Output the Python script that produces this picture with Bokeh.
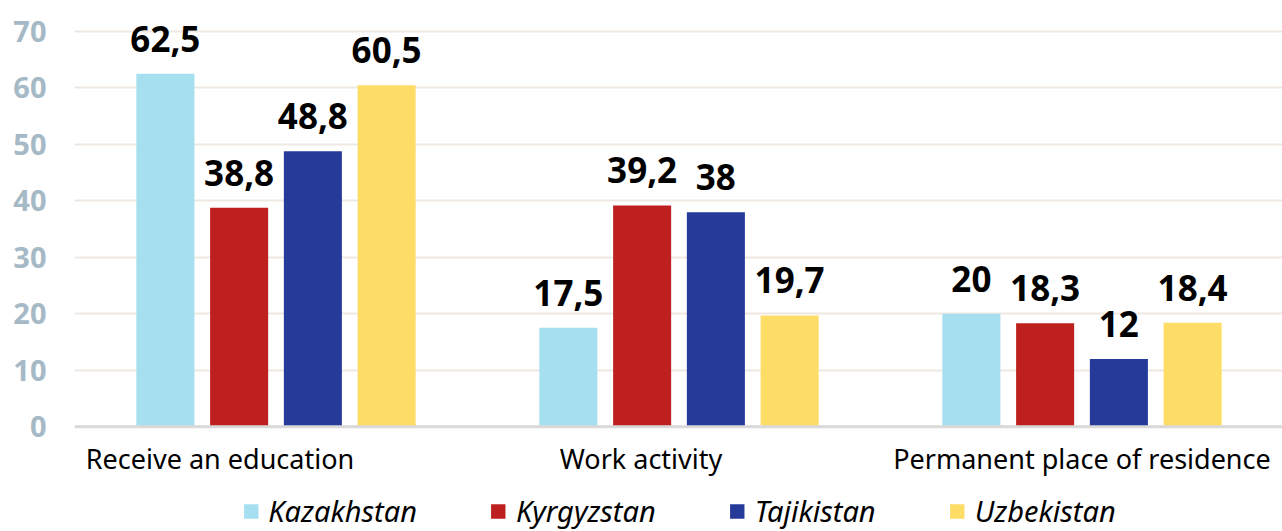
from bokeh.plotting import figure
from bokeh.models import (ColumnDataSource, Range1d, Legend, LegendItem,
                          FixedTicker, Span)
from bokeh.transform import dodge
from bokeh.core.properties import value
from bokeh.embed import file_html
from bokeh.resources import INLINE

categories = ["Receive an education", "Work activity", "Permanent place of residence"]
countries = ["Kazakhstan", "Kyrgyzstan", "Tajikistan", "Uzbekistan"]
kazakhstan = [62.5, 17.5, 20]
kyrgyzstan = [38.8, 39.2, 18.3]
tajikistan = [48.8, 38, 12]
uzbekistan = [60.5, 19.7, 18.4]
y_ticks = [0, 10, 20, 30, 40, 50, 60, 70]

series = [kazakhstan, kyrgyzstan, tajikistan, uzbekistan]
colors = ["#A6DFEF", "#BE2020", "#263A9A", "#FEDD66"]
offsets = [-0.2745, -0.0915, 0.0915, 0.2745]
bar_width = 0.144
label_shift = [-56, -38, 0]   # px shift of category labels

FONT = "Noto Sans"
FRAME_W = 1209
n = len(categories)
group_x = [i + 0.5 for i in range(n)]   # category slot centres on a 0..n axis

# frame extends below 0 to hold category labels and legend
p = figure(
    x_range=Range1d(0, n),
    y_range=Range1d(-18.4, 71.6),
    frame_width=FRAME_W, frame_height=508,
    output_backend="svg", toolbar_location=None,
    min_border_left=74, min_border_right=0, min_border_top=22, min_border_bottom=0,
)
p.outline_line_color = None
p.background_fill_color = "white"
p.border_fill_color = "white"

items = []
for name, vals, col, off in zip(countries, series, colors, offsets):
    src = ColumnDataSource(dict(
        x=group_x, y=vals,
        label=[f"{v:g}".replace(".", ",") for v in vals],
    ))
    r = p.vbar(x=dodge("x", off), top="y", width=bar_width,
               source=src, fill_color=col, line_color=None)
    p.text(x=dodge("x", off), y="y", text="label", source=src,
           text_align="center", text_baseline="alphabetic", y_offset=-35,
           text_font=value(FONT), text_font_style="bold", text_font_size="35px",
           text_color="#000000")
    items.append(LegendItem(label=name, renderers=[r]))

# y axis
p.yaxis.ticker = FixedTicker(ticks=y_ticks)
p.yaxis.axis_line_color = None
p.yaxis.major_tick_line_color = None
p.yaxis.minor_tick_line_color = None
p.yaxis.major_label_text_font = FONT
p.yaxis.major_label_text_font_style = "bold"
p.yaxis.major_label_text_font_size = "29px"
p.yaxis.major_label_text_color = "#A6B9C6"
p.yaxis.major_label_standoff = 22

p.xaxis.visible = False
p.xgrid.grid_line_color = None
p.ygrid.grid_line_color = "#EEE8E2"
p.ygrid.grid_line_width = 2

# baseline
p.add_layout(Span(location=0, dimension="width", line_color="#D9D9D9", line_width=3))

# category labels under the baseline
cat_src = ColumnDataSource(dict(x=group_x, y=[0] * n, text=categories, shift=label_shift))
p.text(x="x", y="y", text="text", source=cat_src, x_offset="shift", y_offset=13,
       text_align="center", text_baseline="top",
       text_font=value(FONT), text_font_size="27px", text_color="#000000")

legend = Legend(items=items, orientation="horizontal", location="bottom_center",
                label_text_font=FONT, label_text_font_style="italic",
                label_text_font_size="29px", label_text_color="#000000",
                glyph_width=18, glyph_height=18, label_standoff=9, spacing=72,
                label_height=34, padding=0, margin=0,
                border_line_color=None, background_fill_alpha=0)
p.add_layout(legend, "center")

open("out.html", "w").write(file_html(p, INLINE))
